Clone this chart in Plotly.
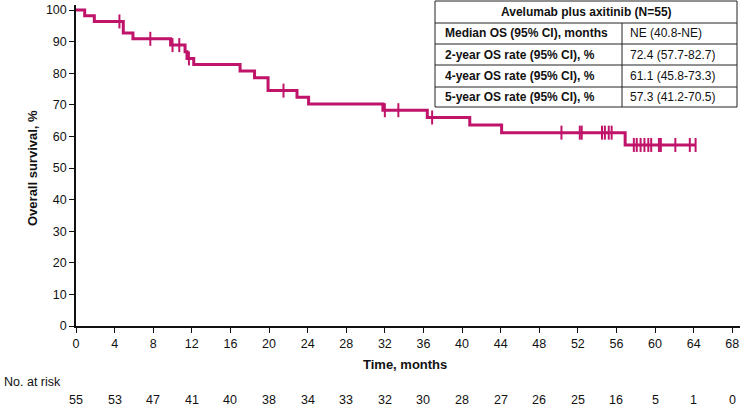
import numpy as np
import plotly.graph_objects as go

# ---- data ----
event_times = [0, 0.9, 1.9, 4.9, 5.9, 9.8, 11.3, 11.5, 12.2, 17.0, 18.5, 19.9, 22.9, 24.1, 31.8, 36.4, 40.8, 44.1, 56.9]
survival = [100, 98.2, 96.4, 92.7, 90.9, 88.9, 86.8, 84.7, 82.8, 80.7, 78.6, 74.5, 72.4, 70.3, 68.3, 66.0, 63.6, 61.2, 57.3]
censor_times = [4.5, 7.7, 10.0, 10.7, 11.7, 21.5, 32.0, 33.4, 36.9, 50.3, 52.2, 52.4, 54.5, 54.8, 55.2, 55.5,
                57.8, 58.1, 58.5, 58.9, 59.3, 59.6, 60.4, 60.6, 62.1, 63.6, 64.2]
x_ticks = list(range(0, 69, 4))
y_ticks = list(range(0, 101, 10))
at_risk = [55, 53, 47, 41, 40, 38, 34, 33, 32, 30, 28, 27, 26, 25, 16, 5, 1, 0]
table_title = "Avelumab plus axitinib (N=55)"
table_labels = ["Median OS (95% CI), months", "2-year OS rate (95% CI), %",
                "4-year OS rate (95% CI), %", "5-year OS rate (95% CI), %"]
table_values = ["NE (40.8-NE)", "72.4 (57.7-82.7)", "61.1 (45.8-73.3)", "57.3 (41.2-70.5)"]

COLOR = "#C0136A"
FONT = "Liberation Sans, Arial, sans-serif"
W, H = 740, 409
ML, MR, MT, MB = 76, 0, 5, 83
PW, PH = W - ML - MR, H - MT - MB


def px_x(px):
    return (px - ML) / PW


def px_y(py):
    return (H - MB - py) / PH


# step-function values at censor times
et = np.array(event_times)
sv = np.array(survival)
censor_y = [sv[np.searchsorted(et, t, side="right") - 1] for t in censor_times]

line_x = event_times + [max(censor_times)]
line_y = survival + [survival[-1]]

fig = go.Figure()
fig.add_trace(go.Scatter(x=line_x, y=line_y, mode="lines", line=dict(color=COLOR, width=3, shape="hv"),
                         hoverinfo="skip", showlegend=False))
fig.add_trace(go.Scatter(x=censor_times, y=censor_y, mode="markers",
                         marker=dict(symbol="line-ns", size=10, line=dict(color=COLOR, width=2)),
                         showlegend=False))

annotations = []
# at-risk row
annotations.append(dict(text="No. at risk", x=px_x(2), y=px_y(382), xref="paper", yref="paper",
                        xanchor="left", yanchor="middle", showarrow=False,
                        font=dict(family=FONT, size=12.5, color="#111")))
for t, n in zip(x_ticks, at_risk):
    annotations.append(dict(text=str(n), x=t, y=px_y(400), xref="x", yref="paper",
                            xanchor="center", yanchor="middle", showarrow=False,
                            font=dict(family=FONT, size=12.5, color="#111")))
# axis titles
annotations.append(dict(text="<b>Time, months</b>", x=px_x(405), y=px_y(365), xref="paper", yref="paper",
                        xanchor="center", yanchor="middle", showarrow=False,
                        font=dict(family=FONT, size=13, color="#111")))
annotations.append(dict(text="<b>Overall survival, %</b>", x=px_x(33), y=px_y(168), xref="paper", yref="paper",
                        xanchor="center", yanchor="middle", showarrow=False, textangle=-90,
                        font=dict(family=FONT, size=13, color="#111")))

# table
TL, TR, TC, TT, TB = 435, 737, 622, 1, 107
row_lines = [23, 44, 65, 87]
row_centers = [33.5, 55, 76, 97]
shapes = [dict(type="rect", xref="paper", yref="paper", x0=px_x(TL), x1=px_x(TR), y0=px_y(TB), y1=px_y(TT),
               fillcolor="white", line=dict(color="#222", width=1), layer="above")]
for ly in row_lines:
    shapes.append(dict(type="line", xref="paper", yref="paper", x0=px_x(TL), x1=px_x(TR), y0=px_y(ly), y1=px_y(ly),
                       line=dict(color="#222", width=1)))
shapes.append(dict(type="line", xref="paper", yref="paper", x0=px_x(TC), x1=px_x(TC), y0=px_y(row_lines[0]),
                   y1=px_y(TB), line=dict(color="#222", width=1)))
annotations.append(dict(text="<b>" + table_title + "</b>", x=px_x((TL + TR) / 2), y=px_y(12.5),
                        xref="paper", yref="paper", xanchor="center", yanchor="middle", showarrow=False,
                        font=dict(family=FONT, size=12, color="#111")))
for lab, val, cy in zip(table_labels, table_values, row_centers):
    annotations.append(dict(text="<b>" + lab + "</b>", x=px_x(443), y=px_y(cy), xref="paper", yref="paper",
                            xanchor="left", yanchor="middle", showarrow=False,
                            font=dict(family=FONT, size=12, color="#111")))
    annotations.append(dict(text=val, x=px_x(628), y=px_y(cy), xref="paper", yref="paper",
                            xanchor="left", yanchor="middle", showarrow=False,
                            font=dict(family=FONT, size=12, color="#111")))

fig.update_layout(
    width=W, height=H, margin=dict(l=ML, r=MR, t=MT, b=MB),
    paper_bgcolor="white", plot_bgcolor="white",
    xaxis=dict(range=[0, 68.8], tickvals=x_ticks, ticktext=[str(v) for v in x_ticks],
               showline=True, linecolor="#111", linewidth=1.5, ticks="outside", ticklen=5, tickwidth=1.2,
               tickcolor="#111", showgrid=False, zeroline=False,
               tickfont=dict(family=FONT, size=12.5, color="#111")),
    yaxis=dict(range=[0, 101.6], tickvals=y_ticks, showline=True, linecolor="#111", linewidth=1.5,
               ticks="outside", ticklen=5, tickwidth=1.2, tickcolor="#111", showgrid=False, zeroline=False,
               tickfont=dict(family=FONT, size=12.5, color="#111")),
    shapes=shapes, annotations=annotations, showlegend=False,
)

fig.write_html("out.html", config={"displayModeBar": False},
               post_script="document.body.style.margin='0px';document.body.style.padding='0px';"
                           "document.body.style.overflow='hidden';")
